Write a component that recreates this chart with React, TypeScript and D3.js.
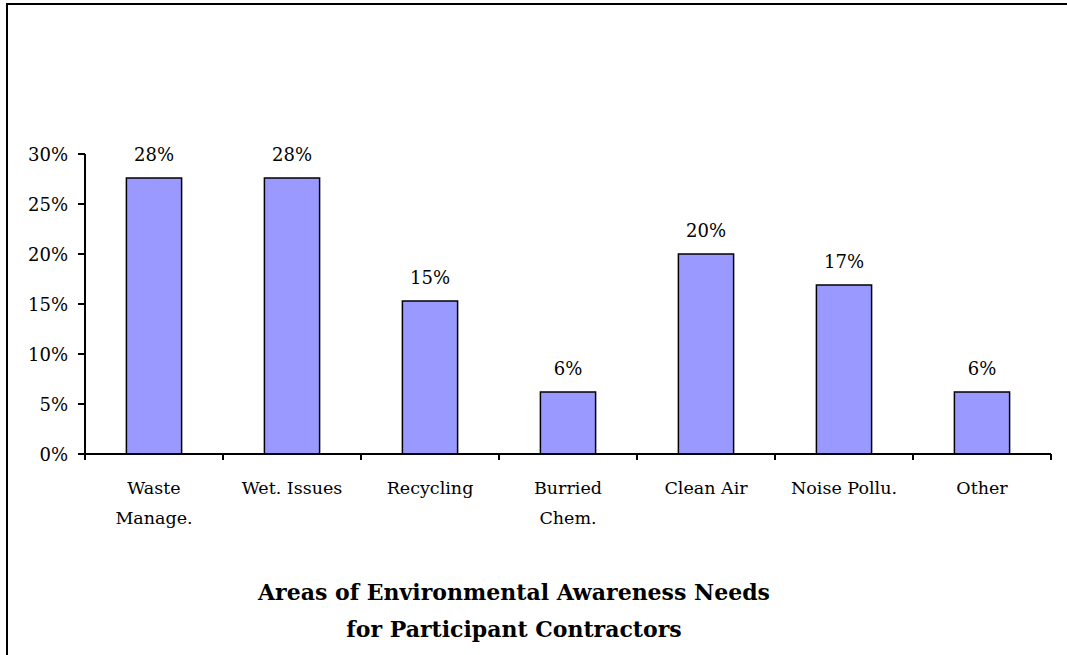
import { useEffect, useRef } from "react";
import * as d3 from "d3";

const categories = [
  ["Waste", "Manage."],
  ["Wet. Issues"],
  ["Recycling"],
  ["Burried", "Chem."],
  ["Clean Air"],
  ["Noise Pollu."],
  ["Other"],
];
const values = [0.276, 0.276, 0.153, 0.062, 0.2, 0.169, 0.062];
const valueLabels = ["28%", "28%", "15%", "6%", "20%", "17%", "6%"];
const yTicks = [0, 0.05, 0.1, 0.15, 0.2, 0.25, 0.3];
const titleLines = ["Areas of Environmental Awareness Needs", "for Participant Contractors"];

const W = 1067;
const H = 655;
const FONT = '"DejaVu Serif", serif';

export default function App() {
  const svgRef = useRef<SVGSVGElement>(null);

  useEffect(() => {
    if (!svgRef.current) return;
    const svg = d3.select(svgRef.current);
    svg.selectAll("*").remove();

    const left = 85;
    const right = 1051;
    const top = 154;
    const bottom = 454;

    // outer frame (runs off the right and bottom edges)
    svg
      .append("rect")
      .attr("x", 7)
      .attr("y", 4)
      .attr("width", 1200)
      .attr("height", 800)
      .attr("fill", "#fff")
      .attr("stroke", "#000")
      .attr("stroke-width", 2);

    const x = d3
      .scaleBand<number>()
      .domain(d3.range(categories.length))
      .range([left, right])
      .paddingInner(0.6)
      .paddingOuter(0.3);

    const y = d3.scaleLinear().domain([0, 0.3]).range([bottom, top]);

    const g = svg.append("g").style("font-family", FONT);

    // bars
    g.selectAll(".bar")
      .data(values)
      .enter()
      .append("rect")
      .attr("x", (_d, i) => x(i)!)
      .attr("y", (d) => y(d))
      .attr("width", x.bandwidth())
      .attr("height", (d) => y(0) - y(d))
      .attr("fill", "#9999ff")
      .attr("stroke", "#000")
      .attr("stroke-width", 1.5);

    // value labels
    g.selectAll(".val")
      .data(values)
      .enter()
      .append("text")
      .attr("x", (_d, i) => x(i)! + x.bandwidth() / 2)
      .attr("y", (d) => y(d) - 17.5)
      .attr("text-anchor", "middle")
      .style("font-size", "18px")
      .text((_d, i) => valueLabels[i]);

    // y axis
    g.append("line")
      .attr("x1", left)
      .attr("x2", left)
      .attr("y1", top)
      .attr("y2", bottom)
      .attr("stroke", "#000")
      .attr("stroke-width", 2);

    yTicks.forEach((t) => {
      g.append("line")
        .attr("x1", left - 7)
        .attr("x2", left)
        .attr("y1", y(t))
        .attr("y2", y(t))
        .attr("stroke", "#000")
        .attr("stroke-width", 2);
      g.append("text")
        .attr("x", left - 17)
        .attr("y", y(t) + 6.5)
        .attr("text-anchor", "end")
        .style("font-size", "18px")
        .text(d3.format(".0%")(t));
    });

    // x axis
    g.append("line")
      .attr("x1", left)
      .attr("x2", right)
      .attr("y1", bottom)
      .attr("y2", bottom)
      .attr("stroke", "#000")
      .attr("stroke-width", 2);

    const step = x.step();
    d3.range(categories.length + 1).forEach((i) => {
      const tx = left + i * step;
      g.append("line")
        .attr("x1", tx)
        .attr("x2", tx)
        .attr("y1", bottom)
        .attr("y2", bottom + 6)
        .attr("stroke", "#000")
        .attr("stroke-width", 2);
    });

    categories.forEach((lines, i) => {
      const cx = x(i)! + x.bandwidth() / 2;
      lines.forEach((ln, j) => {
        g.append("text")
          .attr("x", cx)
          .attr("y", 494 + j * 30)
          .attr("text-anchor", "middle")
          .style("font-size", "17.5px")
          .text(ln);
      });
    });

    // title
    titleLines.forEach((ln, j) => {
      g.append("text")
        .attr("x", 514)
        .attr("y", 600 + j * 37)
        .attr("text-anchor", "middle")
        .style("font-size", "22px")
        .style("font-weight", "bold")
        .text(ln);
    });
  }, []);

  return (
    <svg
      ref={svgRef}
      width={W}
      height={H}
      style={{ position: "absolute", left: 0, top: 0, background: "#fff" }}
    />
  );
}
